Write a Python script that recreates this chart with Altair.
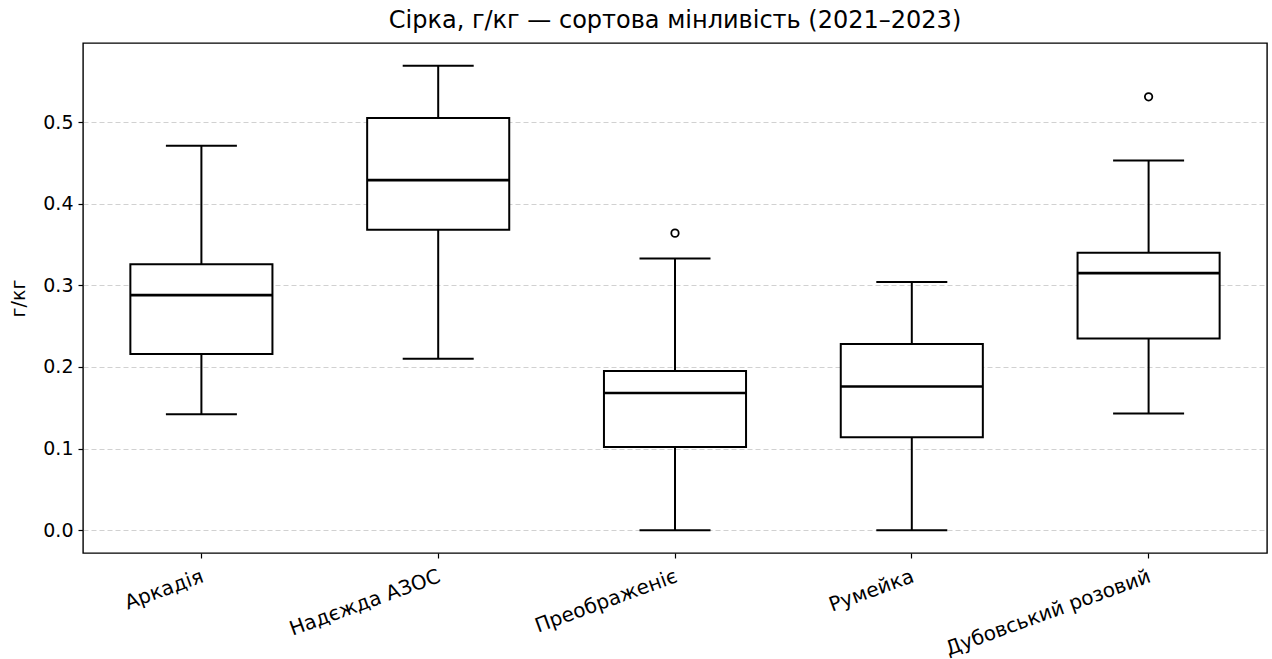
import altair as alt
import pandas as pd

cultivars = ["Аркадія", "Надєжда АЗОС", "Преображеніє", "Румейка", "Дубовський розовий"]
whisker_low = [0.142, 0.210, 0.0, 0.0, 0.143]
q1 = [0.216, 0.368, 0.102, 0.114, 0.235]
median = [0.288, 0.429, 0.168, 0.176, 0.315]
q3 = [0.326, 0.505, 0.195, 0.228, 0.340]
whisker_high = [0.471, 0.569, 0.333, 0.304, 0.453]
outlier_cultivars = ["Преображеніє", "Дубовський розовий"]
outlier_values = [0.364, 0.531]

stats = pd.DataFrame({
    "cultivar": cultivars,
    "low": whisker_low,
    "q1": q1,
    "median": median,
    "q3": q3,
    "high": whisker_high,
})
outliers = pd.DataFrame({"cultivar": outlier_cultivars, "value": outlier_values})

FONT = "DejaVu Sans"

x_enc = alt.X(
    "cultivar:N",
    sort=cultivars,
    title=None,
    scale=alt.Scale(paddingInner=0, paddingOuter=0),
    axis=alt.Axis(
        labelAngle=-20,
        labelAlign="right",
        labelBaseline="top",
        labelFontSize=20,
        labelFont=FONT,
        labelColor="black",
        tickColor="black",
        tickSize=5,
        tickWidth=1.2,
        domain=False,
        labelPadding=8,
        labelLimit=400,
    ),
)

y_scale = alt.Scale(domain=[-0.028, 0.597], nice=False, zero=False)

whiskers = alt.Chart(stats).mark_rule(color="black", strokeWidth=2).encode(
    x=x_enc,
    y=alt.Y(
        "low:Q",
        scale=y_scale,
        title="г/кг",
        axis=alt.Axis(
            values=[0.0, 0.1, 0.2, 0.3, 0.4, 0.5],
            format=".1f",
            labelFontSize=19,
            labelFont=FONT,
            labelColor="black",
            titleFontSize=19,
            titleFont=FONT,
            titleFontWeight="normal",
            titleColor="black",
            titlePadding=14,
            tickColor="black",
            tickSize=5,
            tickWidth=1.2,
            domain=False,
            grid=True,
            gridColor="#cccccc",
            gridDash=[5, 3],
            gridWidth=0.9,
            labelPadding=5,
        ),
    ),
    y2="high:Q",
)

boxes = alt.Chart(stats).mark_bar(
    fill="white", stroke="black", strokeWidth=2, width=alt.RelativeBandSize(0.6)
).encode(x=x_enc, y=alt.Y("q1:Q", scale=y_scale), y2="q3:Q")

medians = alt.Chart(stats).mark_tick(color="black", thickness=2.6, size=142, opacity=1).encode(
    x=x_enc, y=alt.Y("median:Q", scale=y_scale)
)

caps_low = alt.Chart(stats).mark_tick(color="black", thickness=2, size=71, opacity=1).encode(
    x=x_enc, y=alt.Y("low:Q", scale=y_scale)
)
caps_high = alt.Chart(stats).mark_tick(color="black", thickness=2, size=71, opacity=1).encode(
    x=x_enc, y=alt.Y("high:Q", scale=y_scale)
)

points = alt.Chart(outliers).mark_point(
    shape="circle", filled=False, color="black", strokeWidth=1.8, size=55, opacity=1
).encode(x=x_enc, y=alt.Y("value:Q", scale=y_scale))

chart = alt.layer(whiskers, boxes, medians, caps_low, caps_high, points).properties(
    width=1184,
    height=510,
    title=alt.TitleParams(
        "Сірка, г/кг — сортова мінливість (2021–2023)",
        font=FONT,
        fontSize=24,
        fontWeight="normal",
        color="black",
        offset=10,
    ),
    autosize=alt.AutoSizeParams(type="none"),
    padding={"left": 83, "top": 43, "right": 5, "bottom": 106},
).configure(background="white").configure_view(stroke="black", strokeWidth=1.4).configure_axisX(labelOffset=-2)

chart.save("out.html", embed_options={"renderer": "svg", "actions": False})
